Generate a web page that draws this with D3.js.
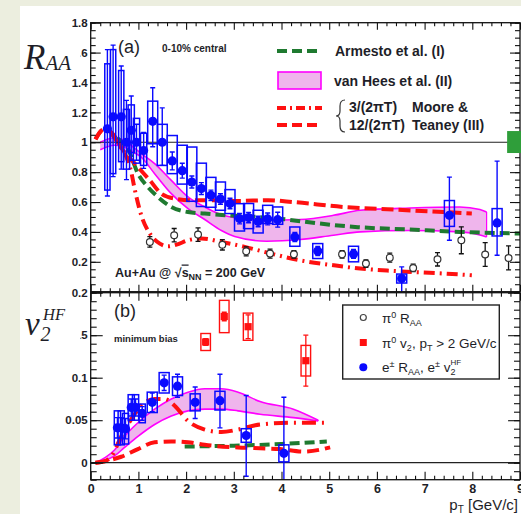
<!DOCTYPE html>
<html><head><meta charset="utf-8">
<script src="https://cdn.jsdelivr.net/npm/d3@7"></script>
<style>
html,body{margin:0;padding:0;background:#eceedf;}
svg{display:block;}
text{font-family:"Liberation Sans",Arial,sans-serif;fill:#1e1e28;}
.ser{font-family:"Liberation Serif","DejaVu Serif",serif;font-style:italic;}
</style></head><body>
<svg id="c" width="521" height="514"></svg>
<script>
// ---------------- DATA ----------------
// tick labels
const xTickLabels = ["0","1","2","3","4","5","6","7","8","9"];
const yTicksA = [0.2,0.4,0.6,0.8,1.0,1.2,1.4,1.6,1.8];
const yTickLabelsA = ["0.2","0.4","0.6","0.8","1","1.2","1.4","1.6","1.8"];
const yTicksB = [0,0.05,0.1,0.15,0.2];
const yTickLabelsB = ["0","0.05","0.1","0.15","0.2"];

// e± R_AA (0-10% central)
const eRaaPt     = [0.35,0.47,0.64,0.75,0.85,0.96,1.11,1.30,1.50,1.71,1.92,2.12,2.32,2.52,2.72,2.92,3.12,3.31,3.51,3.71,3.92,4.28,4.76,5.51,6.52,7.52,8.52];
const eRaa       = [1.09,1.17,1.17,1.00,1.08,1.00,0.945,1.14,1.00,0.875,0.81,0.734,0.69,0.645,0.62,0.59,0.489,0.496,0.47,0.487,0.482,0.366,0.272,0.253,0.088,0.511,0.46];
const eRaaStatUp = [0.53,0.48,0.34,0.28,0.23,0.12,0.12,0.225,0.23,0.06,0.05,0.04,0.04,0.035,0.035,0.035,0.035,0.035,0.035,0.04,0.05,0.03,0.03,0.03,0.078,0.256,0.414];
const eRaaStatDn = [0.45,0.40,0.35,0.25,0.20,0.12,0.12,0.17,0.155,0.06,0.05,0.04,0.04,0.035,0.035,0.035,0.035,0.035,0.035,0.04,0.05,0.03,0.03,0.03,0.10,0.167,0.216];
const eRaaSysUp  = [0.435,0.45,0.31,0.22,0.17,0.16,0.115,0.135,0.12,0.17,0.17,0.234,0.17,0.12,0.114,0.093,0.10,0.094,0.075,0.091,0.085,0.067,0.05,0.051,0.03,0.099,0.096];
const eRaaSysDn  = [0.41,0.38,0.30,0.18,0.15,0.14,0.10,0.15,0.155,0.085,0.09,0.129,0.12,0.08,0.075,0.067,0.083,0.074,0.077,0.031,0.031,0.062,0.05,0.053,0.03,0.074,0.087];

// pi0 R_AA
const piRaaPt  = [1.24,1.75,2.25,2.76,3.26,3.76,4.26,5.27,5.77,6.27,6.76,7.27,7.77,8.27,8.76];
const piRaa    = [0.333,0.378,0.382,0.314,0.27,0.255,0.25,0.25,0.188,0.228,0.159,0.217,0.344,0.249,0.226];
const piRaaErr = [0.035,0.045,0.045,0.035,0.03,0.03,0.025,0.025,0.025,0.03,0.025,0.045,0.09,0.08,0.08];

// e± v2^HF (minimum bias)
const eV2Pt     = [0.56,0.64,0.73,0.85,0.94,1.08,1.29,1.54,1.82,2.19,2.71,3.26,4.05];
const eV2       = [0.041,0.041,0.040,0.065,0.065,0.058,0.071,0.094,0.090,0.071,0.073,0.032,0.011];
const eV2StatUp = [0.012,0.012,0.012,0.010,0.010,0.008,0.011,0.009,0.014,0.018,0.031,0.047,0.066];
const eV2StatDn = [0.012,0.012,0.012,0.010,0.010,0.008,0.011,0.009,0.013,0.019,0.032,0.048,0.035];
const eV2Sys    = [0.020,0.020,0.018,0.015,0.015,0.011,0.012,0.012,0.011,0.010,0.011,0.008,0.010];

// pi0 v2, pT > 2 GeV/c
const piV2Pt   = [2.41,2.80,3.30,4.51];
const piV2     = [0.142,0.172,0.160,0.120];
const piV2Stat = [0.004,0.005,0.014,0.030];
const piV2Sys  = [0.010,0.019,0.016,0.018];

// Theory: R_AA
const armRaaPt = [0.55,0.65,0.78,0.99,1.2,1.41,1.69,2.04,2.39,2.88,3.41,4.11,4.74,5.6,6.69,7.74,9.0];
const armRaa   = [1.03,1.0,0.955,0.79,0.70,0.634,0.567,0.533,0.523,0.511,0.502,0.483,0.458,0.432,0.416,0.40,0.389];
const vhRaaPt  = [0.2,0.35,0.5,0.65,0.8,1.06,1.34,1.69,2.04,2.39,2.74,3.02,3.69,4.39,5.09,5.65,6.69,7.74,8.16,8.3];
const vhRaaHi  = [1.0,1.02,1.03,1.02,0.99,0.924,0.857,0.745,0.634,0.567,0.515,0.495,0.478,0.483,0.511,0.545,0.56,0.567,0.55,0.533];
const vhRaaLo  = [0.95,0.97,0.98,0.975,0.95,0.90,0.79,0.656,0.556,0.483,0.41,0.37,0.338,0.349,0.378,0.40,0.41,0.40,0.38,0.366];
const mt12RaaPt = [0.1,0.2,0.3,0.45,0.68,0.99,1.24,1.48,1.76,2.11,2.6,3.09,3.72,4.25,5.3,6.34,7.39,7.99];
const mt12Raa   = [1.02,1.07,1.09,1.06,0.946,0.834,0.745,0.656,0.623,0.612,0.612,0.607,0.612,0.6,0.567,0.55,0.533,0.523];
const mt3RaaPt  = [0.1,0.2,0.3,0.45,0.6,0.75,0.85,0.92,1.06,1.24,1.45,1.62,1.8,2.04,2.32,2.74,3.23,3.72,4.39,5.09,5.65,6.34,7.39,7.99];
const mt3Raa    = [1.02,1.07,1.09,1.05,0.98,0.90,0.80,0.69,0.511,0.389,0.322,0.304,0.315,0.344,0.356,0.333,0.30,0.26,0.21,0.177,0.155,0.139,0.122,0.11];

// Theory: v2
const armV2Pt = [1.97,3.0,4.0,4.95];
const armV2   = [0.019,0.020,0.022,0.025];
const vhV2Pt  = [0.1,0.3,0.5,0.71,0.99,1.34,1.69,2.04,2.39,2.74,3.09,3.55,4.25,4.77];
const vhV2Hi  = [0,0.006,0.015,0.031,0.047,0.063,0.075,0.083,0.087,0.087,0.083,0.072,0.063,0.05];
const vhV2Lo  = [0,0.003,0.008,0.018,0.031,0.045,0.055,0.061,0.063,0.063,0.061,0.057,0.053,0.049];
const mt3V2Pt = [0.1,0.25,0.43,0.64,0.85,1.06,1.34,1.55,1.76,2.04,2.39,2.74,3.09,3.55,4.25,4.95];
const mt3V2   = [0,0.001,0.007,0.031,0.051,0.067,0.075,0.075,0.067,0.049,0.039,0.036,0.039,0.045,0.047,0.047];
const mt12V2Pt = [0.1,0.4,0.64,0.99,1.34,1.69,2.04,2.39,3.09,3.55,3.97,4.46,5.02];
const mt12V2   = [0,0.003,0.007,0.016,0.024,0.025,0.024,0.021,0.018,0.017,0.016,0.013,0.018];

// ---------------- DRAW ----------------
const svg = d3.select('#c');
svg.append('rect').attr('x',20).attr('y',6).attr('width',501).attr('height',508).attr('fill','#fff');

const X0 = 90.7, X1 = 520;
const A0 = 291.7, A1 = 22.7, B0 = 479.7, B1 = 292.7;
const x  = d3.scaleLinear().domain([0,9]).range([X0,X1]);
const yA = d3.scaleLinear().domain([0,1.8]).range([A0,A1]);
const yB = d3.scaleLinear().domain([-0.02,0.2]).range([B0,B1]);

const RED = '#ff1010', GREEN = '#1f7a30', BLUE = '#0a0aff', MAG = '#ff00ff', PINK = '#efb5ec';

const defs = svg.append('defs');
defs.append('clipPath').attr('id','ca').append('rect').attr('x',X0).attr('y',A1).attr('width',X1-X0).attr('height',A0-A1);
defs.append('clipPath').attr('id','cb').append('rect').attr('x',X0).attr('y',B1).attr('width',X1-X0).attr('height',B0-B1);

const zip = (a,b) => a.map((v,i)=>[v,b[i]]);
const hw = pt => pt < 0.7 ? 0.055 : (pt < 1.2 ? 0.065 : 0.105);

function band(g, ys, pts, lo, hi){
  const area = d3.area().x(d=>x(d[0])).y0(d=>ys(d[1])).y1(d=>ys(d[2])).curve(d3.curveMonotoneX);
  const data = pts.map((p,i)=>[p,lo[i],hi[i]]);
  g.append('path').datum(data).attr('d',area).attr('fill',PINK).attr('stroke','none');
  const ln = d3.line().x(d=>x(d[0])).y(d=>ys(d[1])).curve(d3.curveMonotoneX);
  g.append('path').datum(zip(pts,hi)).attr('d',ln).attr('fill','none').attr('stroke',MAG).attr('stroke-width',1.6);
  g.append('path').datum(zip(pts,lo)).attr('d',ln).attr('fill','none').attr('stroke',MAG).attr('stroke-width',1.6);
  const n = pts.length-1;
  g.append('line').attr('x1',x(pts[n])).attr('x2',x(pts[n])).attr('y1',ys(hi[n])).attr('y2',ys(lo[n])).attr('stroke',MAG).attr('stroke-width',1.2);
}
function curve(g, ys, pts, vals, color, dash, w){
  const ln = d3.line().x(d=>x(d[0])).y(d=>ys(d[1])).curve(d3.curveMonotoneX);
  g.append('path').datum(zip(pts,vals)).attr('d',ln).attr('fill','none')
    .attr('stroke',color).attr('stroke-width',w||4).attr('stroke-dasharray',dash);
}
function errBar(g, xx, y1, y2, color, w){
  g.append('line').attr('x1',xx).attr('x2',xx).attr('y1',y1).attr('y2',y2).attr('stroke',color).attr('stroke-width',w);
  [y1,y2].forEach(yy=>g.append('line').attr('x1',xx-2.5).attr('x2',xx+2.5).attr('y1',yy).attr('y2',yy).attr('stroke',color).attr('stroke-width',w));
}

// ---- Panel A ----
const gA = svg.append('g').attr('clip-path','url(#ca)');
band(gA, yA, vhRaaPt, vhRaaLo, vhRaaHi);
curve(gA, yA, armRaaPt, armRaa, GREEN, '10,5', 4);
curve(gA, yA, mt12RaaPt, mt12Raa, RED, '12,5', 4);
curve(gA, yA, mt3RaaPt, mt3Raa, RED, '11,5,2,5', 4);
gA.append('line').attr('x1',X0).attr('x2',X1).attr('y1',yA(1)).attr('y2',yA(1)).attr('stroke','#222').attr('stroke-width',1.2);
// pi0 RAA
piRaaPt.forEach((p,i)=>{
  errBar(gA, x(p), yA(piRaa[i]+piRaaErr[i]), yA(piRaa[i]-piRaaErr[i]), '#111', 1.3);
});
gA.selectAll('circle.pi').data(piRaaPt).enter().append('circle')
  .attr('cx',d=>x(d)).attr('cy',(d,i)=>yA(piRaa[i])).attr('r',3.4)
  .attr('fill','#fff').attr('stroke','#333').attr('stroke-width',1.2);
// e RAA
eRaaPt.forEach((p,i)=>{
  gA.append('rect').attr('x',x(p-hw(p))).attr('width',x(p+hw(p))-x(p-hw(p)))
    .attr('y',yA(eRaa[i]+eRaaSysUp[i])).attr('height',yA(eRaa[i]-eRaaSysDn[i])-yA(eRaa[i]+eRaaSysUp[i]))
    .attr('fill','none').attr('stroke',BLUE).attr('stroke-width',1.5);
});
eRaaPt.forEach((p,i)=>{
  errBar(gA, x(p), yA(eRaa[i]+eRaaStatUp[i]), yA(eRaa[i]-eRaaStatDn[i]), BLUE, 1.4);
});
gA.selectAll('circle.e').data(eRaaPt).enter().append('circle')
  .attr('cx',d=>x(d)).attr('cy',(d,i)=>yA(eRaa[i])).attr('r',4.6).attr('fill',BLUE);

// ---- Panel B ----
const gB = svg.append('g').attr('clip-path','url(#cb)');
band(gB, yB, vhV2Pt, vhV2Lo, vhV2Hi);
curve(gB, yB, armV2Pt, armV2, GREEN, '10,5', 4);
curve(gB, yB, mt12V2Pt, mt12V2, RED, '12,6', 4);
curve(gB, yB, mt3V2Pt, mt3V2, RED, '14,6,2,6', 4);
gB.append('line').attr('x1',X0).attr('x2',X1).attr('y1',yB(0)).attr('y2',yB(0)).attr('stroke','#222').attr('stroke-width',1.2);
// pi0 v2
piV2Pt.forEach((p,i)=>{
  gB.append('rect').attr('x',x(p-0.1)).attr('width',x(p+0.1)-x(p-0.1))
    .attr('y',yB(piV2[i]+piV2Sys[i])).attr('height',yB(piV2[i]-piV2Sys[i])-yB(piV2[i]+piV2Sys[i]))
    .attr('fill','none').attr('stroke',RED).attr('stroke-width',1.4);
  errBar(gB, x(p), yB(piV2[i]+piV2Stat[i]), yB(piV2[i]-piV2Stat[i]), RED, 1.3);
  gB.append('rect').attr('x',x(p)-3.6).attr('y',yB(piV2[i])-3.6).attr('width',7.2).attr('height',7.2).attr('fill',RED);
});
// e v2
eV2Pt.forEach((p,i)=>{
  const h = p < 1.2 ? 0.065 : 0.105;
  gB.append('rect').attr('x',x(p-h)).attr('width',x(p+h)-x(p-h))
    .attr('y',yB(eV2[i]+eV2Sys[i])).attr('height',yB(eV2[i]-eV2Sys[i])-yB(eV2[i]+eV2Sys[i]))
    .attr('fill','none').attr('stroke',BLUE).attr('stroke-width',1.5);
});
eV2Pt.forEach((p,i)=>{
  errBar(gB, x(p), yB(eV2[i]+eV2StatUp[i]), yB(eV2[i]-eV2StatDn[i]), BLUE, 1.4);
});
gB.selectAll('circle.e').data(eV2Pt).enter().append('circle')
  .attr('cx',d=>x(d)).attr('cy',(d,i)=>yB(eV2[i])).attr('r',4.6).attr('fill',BLUE);

// ---- Axes ----
const xMajor = d3.range(0,10);
const xMinor = d3.range(0,46).map(i=>+(i*0.2).toFixed(2)).filter(v=>Math.abs(v-Math.round(v))>1e-6);
function styleAxis(g){ g.select('.domain').remove(); g.selectAll('line').attr('stroke','#111').attr('stroke-width',1.1); g.selectAll('text').attr('font-weight','bold').attr('font-size',11.5).attr('fill','#1e1e28'); }
function panelAxes(ys, yTop, yBot, maj, labels, minor, yMajLen, yMinLen, xMajLen, xMinLen, xLabels){
  svg.append('g').attr('transform',`translate(${X0},0)`)
    .call(d3.axisLeft(ys).tickValues(minor).tickSize(-yMinLen).tickFormat('')).call(styleAxis);
  svg.append('g').attr('transform',`translate(${X0},0)`)
    .call(d3.axisLeft(ys).tickValues(maj).tickSize(-yMajLen).tickPadding(3).tickFormat((d,i)=>labels[i])).call(styleAxis);
  svg.append('g').attr('transform',`translate(${X1},0)`)
    .call(d3.axisRight(ys).tickValues(minor).tickSize(-yMinLen).tickFormat('')).call(styleAxis);
  svg.append('g').attr('transform',`translate(${X1},0)`)
    .call(d3.axisRight(ys).tickValues(maj).tickSize(-yMajLen).tickFormat('')).call(styleAxis);
  svg.append('g').attr('transform',`translate(0,${yTop})`)
    .call(d3.axisTop(x).tickValues(xMinor).tickSize(-xMinLen).tickFormat('')).call(styleAxis);
  svg.append('g').attr('transform',`translate(0,${yTop})`)
    .call(d3.axisTop(x).tickValues(xMajor).tickSize(-xMajLen).tickFormat('')).call(styleAxis);
  svg.append('g').attr('transform',`translate(0,${yBot})`)
    .call(d3.axisBottom(x).tickValues(xMinor).tickSize(-xMinLen).tickFormat('')).call(styleAxis);
  const gx = svg.append('g').attr('transform',`translate(0,${yBot})`)
    .call(d3.axisBottom(x).tickValues(xMajor).tickSize(-xMajLen).tickPadding(4).tickFormat((d,i)=>xLabels ? xLabels[i] : '')).call(styleAxis);
  gx.selectAll('text').attr('font-size',12.5);
  svg.append('rect').attr('x',X0).attr('y',yTop).attr('width',X1-X0).attr('height',yBot-yTop)
    .attr('fill','none').attr('stroke','#111').attr('stroke-width',1.3);
}
const minorA = d3.range(0,37).map(i=>+(i*0.05).toFixed(3));
const minorB = d3.range(-2,21).map(i=>+(i*0.01).toFixed(3));
panelAxes(yA, A1, A0, [0].concat(yTicksA), [""].concat(yTickLabelsA), minorA, 10, 5, 7, 3.5, null);
panelAxes(yB, B1, B0, yTicksB, yTickLabelsB, minorB, 12, 6, 8, 4, xTickLabels);

// green normalisation box
svg.append('rect').attr('x',x(8.73)).attr('y',yA(1.075)).attr('width',521-x(8.73)).attr('height',yA(0.928)-yA(1.075)).attr('fill','#2f9e3a');

// ---- Axis titles (white patch hides the leading digits of the tick labels, as in the original) ----
svg.append('rect').attr('x',22).attr('y',36).attr('width',58.5).attr('height',38).attr('fill','#fff');
const tA = svg.append('text').attr('class','ser').attr('x',24).attr('y',69).attr('fill','#111');
tA.append('tspan').attr('font-size',35).text('R');
tA.append('tspan').attr('font-size',21).attr('dy',1).text('AA');
svg.append('rect').attr('x',22).attr('y',300).attr('width',58.5).attr('height',42).attr('fill','#fff');
const tB = svg.append('text').attr('class','ser').attr('x',25).attr('y',335).attr('fill','#111');
tB.append('tspan').attr('font-size',33).text('v');
tB.append('tspan').attr('font-size',20).attr('x',40.5).attr('dy',6).text('2');
tB.append('tspan').attr('font-size',16.5).attr('x',43).attr('y',320).text('HF');
const tX = svg.append('text').attr('x',518).attr('y',510).attr('text-anchor','end').attr('font-size',15);
tX.append('tspan').text('p');
tX.append('tspan').attr('font-size',10).attr('dy',3).text('T');
tX.append('tspan').attr('dy',-3).text(' [GeV/c]');

// ---- Panel labels ----
svg.append('text').attr('x',118).attr('y',53).attr('font-size',18).text('(a)');
svg.append('text').attr('x',162).attr('y',52).attr('font-size',10).attr('font-weight','bold').text('0-10% central');
const au = svg.append('text').attr('x',115).attr('y',276.5).attr('font-size',12.5).attr('font-weight','bold');
au.append('tspan').text('Au+Au @ √');
au.append('tspan').attr('text-decoration','overline').text('s');
au.append('tspan').attr('font-size',9).attr('dy',3).text('NN');
au.append('tspan').attr('dy',-3).text(' = 200 GeV');
svg.append('text').attr('x',114).attr('y',317).attr('font-size',18).text('(b)');
svg.append('text').attr('x',114).attr('y',342).attr('font-size',9.5).attr('font-weight','bold').text('minimum bias');

// ---- Legend A ----
const lg = svg.append('g');
lg.append('line').attr('x1',277).attr('x2',322).attr('y1',51).attr('y2',51).attr('stroke',GREEN).attr('stroke-width',4).attr('stroke-dasharray','10,5');
lg.append('text').attr('x',335).attr('y',56).attr('font-size',14).attr('font-weight','bold').text('Armesto et al. (I)');
lg.append('rect').attr('x',278).attr('y',72).attr('width',43).attr('height',17).attr('fill',PINK).attr('stroke',MAG).attr('stroke-width',1.6);
lg.append('text').attr('x',334).attr('y',86).attr('font-size',14).attr('font-weight','bold').text('van Hees et al. (II)');
lg.append('line').attr('x1',277).attr('x2',322).attr('y1',108).attr('y2',108).attr('stroke',RED).attr('stroke-width',4).attr('stroke-dasharray','9,4,2,4');
lg.append('line').attr('x1',277).attr('x2',322).attr('y1',125).attr('y2',125).attr('stroke',RED).attr('stroke-width',4).attr('stroke-dasharray','10,5');
lg.append('path').attr('d','M345,100 Q340,100 340,106 L340,111 Q340,116 336,116 Q340,116 340,121 L340,126 Q340,132 345,132')
  .attr('fill','none').attr('stroke','#333').attr('stroke-width',1.2);
lg.append('text').attr('x',349).attr('y',112).attr('font-size',14).attr('font-weight','bold').text('3/(2πT)');
lg.append('text').attr('x',349).attr('y',130).attr('font-size',14).attr('font-weight','bold').text('12/(2πT)');
lg.append('text').attr('x',412).attr('y',112).attr('font-size',14).attr('font-weight','bold').text('Moore &');
lg.append('text').attr('x',412).attr('y',130).attr('font-size',14).attr('font-weight','bold').text('Teaney (III)');

// ---- Legend B ----
const lb = svg.append('g');
lb.append('rect').attr('x',342.7).attr('y',305).attr('width',156.6).attr('height',74).attr('fill','#fff').attr('stroke','#222').attr('stroke-width',1.4);
lb.append('circle').attr('cx',363.3).attr('cy',317.5).attr('r',3).attr('fill','#fff').attr('stroke','#444').attr('stroke-width',1.2);
lb.append('rect').attr('x',359.8).attr('y',339).attr('width',7).attr('height',7).attr('fill',RED);
lb.append('circle').attr('cx',363.3).attr('cy',367.3).attr('r',4).attr('fill',BLUE);
const l1 = lb.append('text').attr('x',382).attr('y',323).attr('font-size',13.5);
l1.append('tspan').text('π');
l1.append('tspan').attr('font-size',9).attr('dy',-5).text('0');
l1.append('tspan').attr('dy',5).text(' R');
l1.append('tspan').attr('font-size',9).attr('dy',3).text('AA');
const l2 = lb.append('text').attr('x',382).attr('y',348).attr('font-size',13.5);
l2.append('tspan').text('π');
l2.append('tspan').attr('font-size',9).attr('dy',-5).text('0');
l2.append('tspan').attr('dy',5).text(' v');
l2.append('tspan').attr('font-size',9).attr('dy',3).text('2');
l2.append('tspan').attr('dy',-3).text(', p');
l2.append('tspan').attr('font-size',9).attr('dy',3).text('T');
l2.append('tspan').attr('dy',-3).text(' > 2 GeV/c');
const l3 = lb.append('text').attr('x',382).attr('y',372).attr('font-size',13.5);
l3.append('tspan').text('e');
l3.append('tspan').attr('font-size',9).attr('dy',-5).text('±');
l3.append('tspan').attr('dy',5).text(' R');
l3.append('tspan').attr('font-size',9).attr('dy',3).text('AA');
l3.append('tspan').attr('dy',-3).text(', e');
l3.append('tspan').attr('font-size',9).attr('dy',-5).text('±');
l3.append('tspan').attr('dy',5).text(' v');
l3.append('tspan').attr('font-size',9).attr('dy',3).text('2');
l3.append('tspan').attr('font-size',8).attr('dx',-5).attr('dy',-10).text('HF');
</script></body></html>
